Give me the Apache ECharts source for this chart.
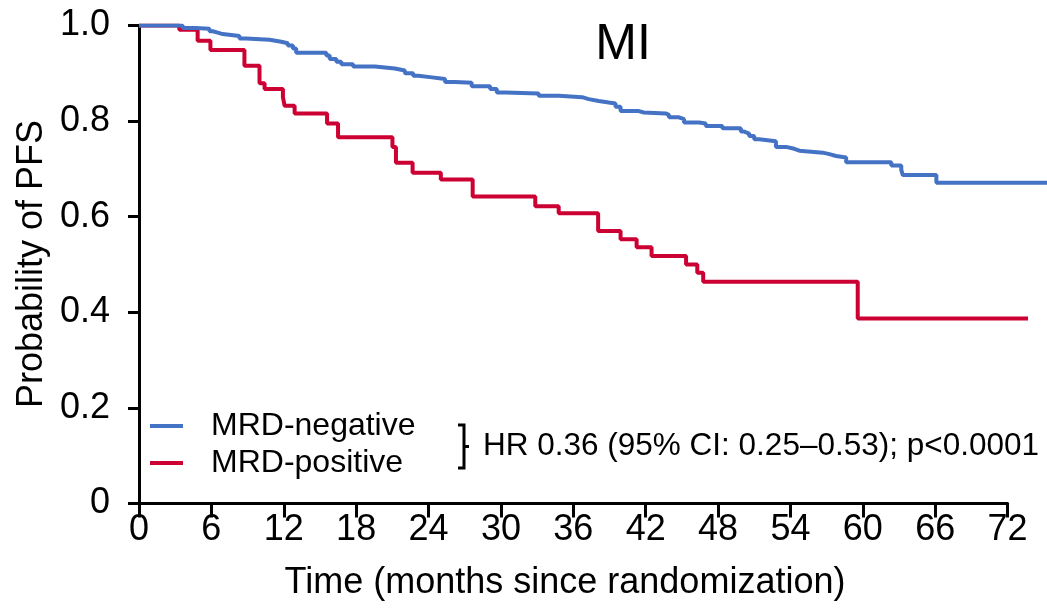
<!DOCTYPE html>
<html>
<head>
<meta charset="utf-8">
<script src="https://cdn.jsdelivr.net/npm/echarts@6/dist/echarts.min.js"></script>
<style>
  html, body { margin: 0; padding: 0; background: #fff; }
  #chart { width: 1047px; height: 610px; }
</style>
</head>
<body>
<div id="chart"></div>
<script>
// Kaplan–Meier PFS estimates, months since randomization
const negTime = [0, 3.62, 4.72, 5.84, 6.11, 6.53, 6.94, 8.33, 8.88, 10.82, 11.79, 12.34, 12.76, 13.03, 15.53, 15.81, 16.36, 16.77, 17.75, 19.55, 21.21, 22.04, 22.73, 23.15, 24.12, 25.37, 26.2, 27.58, 29.11, 29.66, 30.36, 33.13, 34.79, 36.73, 37.28, 38.11, 38.94, 39.5, 39.92, 41.44, 41.85, 43.66, 43.93, 44.76, 45.18, 46.43, 46.98, 48.36, 49.89, 50.17, 50.58, 51.0, 51.41, 52.8, 53.63, 54.32, 54.74, 56.68, 57.23, 57.79, 58.62, 62.36, 63.19, 63.32, 66.1, 75.27];
const negSurv = [1, 0.995, 0.993, 0.988, 0.985, 0.982, 0.978, 0.973, 0.970, 0.966, 0.963, 0.958, 0.952, 0.943, 0.937, 0.930, 0.924, 0.919, 0.914, 0.910, 0.906, 0.900, 0.895, 0.892, 0.888, 0.882, 0.880, 0.873, 0.867, 0.860, 0.858, 0.853, 0.850, 0.846, 0.842, 0.839, 0.837, 0.830, 0.821, 0.818, 0.816, 0.813, 0.808, 0.804, 0.797, 0.795, 0.790, 0.785, 0.778, 0.774, 0.769, 0.762, 0.758, 0.746, 0.742, 0.738, 0.734, 0.731, 0.727, 0.724, 0.714, 0.707, 0.698, 0.687, 0.671, 0.671];

const posTime = [0, 3.34, 4.86, 5.92, 8.74, 9.99, 10.41, 11.93, 12.07, 12.9, 15.59, 16.5, 21.01, 21.3, 22.68, 25.02, 27.66, 32.85, 34.79, 38.06, 39.92, 41.25, 42.49, 45.35, 46.28, 46.77, 59.58, 73.7];
const posSurv = [1, 0.991, 0.968, 0.949, 0.916, 0.879, 0.867, 0.850, 0.832, 0.816, 0.795, 0.766, 0.746, 0.713, 0.692, 0.678, 0.642, 0.622, 0.607, 0.570, 0.553, 0.536, 0.518, 0.500, 0.483, 0.464, 0.387, 0.387];

const groupNames = ['MRD-negative', 'MRD-positive'];
const groupColors = ['#4472C4', '#CC0033'];
const panelTitle = 'MI';
const statsText = 'HR 0.36 (95% CI: 0.25\u20130.53); p<0.0001';
const xTitle = 'Time (months since randomization)';
const yTitle = 'Probability of PFS';

const FONT = '"Liberation Sans", Arial, Helvetica, sans-serif';

function pairs(t, s) { return t.map((v, i) => [v, s[i]]); }

// Plot box: the curves run to the right edge, the drawn time axis stops at 72 months.
const W = 1047, LEFT = 139, TOP = 25.5, BOTTOM = 106.5;
const AXIS_MAX = 72;
const DATA_MAX = negTime[negTime.length - 1];
const fullWidth = W - LEFT;
const axisRight = W - LEFT - fullWidth * AXIS_MAX / DATA_MAX;

const chart = echarts.init(document.getElementById('chart'), null, { renderer: 'canvas' });

const axisLine = { show: true, lineStyle: { color: '#000', width: 3 } };
const axisTick = { show: true, length: 11, lineStyle: { color: '#000', width: 3 } };

chart.setOption({
  animation: false,
  backgroundColor: '#fff',
  grid: [
    { left: LEFT, right: 0, top: TOP, bottom: BOTTOM, containLabel: false },
    { left: LEFT, right: axisRight, top: TOP, bottom: BOTTOM, containLabel: false }
  ],
  xAxis: [
    { gridIndex: 0, type: 'value', min: 0, max: DATA_MAX, show: false },
    {
      gridIndex: 1, type: 'value', min: 0, max: AXIS_MAX, interval: 6,
      axisLine: axisLine,
      axisTick: Object.assign({}, axisTick, { length: 14 }),
      splitLine: { show: false },
      axisLabel: { fontSize: 36, fontFamily: FONT, color: '#000', margin: 9 }
    }
  ],
  yAxis: [
    {
      gridIndex: 0, type: 'value', min: 0, max: 1, interval: 0.2,
      axisLine: axisLine,
      axisTick: axisTick,
      splitLine: { show: false },
      axisLabel: {
        fontSize: 36, fontFamily: FONT, color: '#000', margin: 29,
        formatter: v => (v === 0 ? '0' : v.toFixed(1))
      }
    },
    { gridIndex: 1, type: 'value', min: 0, max: 1, show: false }
  ],
  legend: {
    orient: 'vertical', left: 150, top: 410, padding: 0,
    icon: 'rect', itemWidth: 33, itemHeight: 4, itemGap: 5,
    selectedMode: false,
    data: groupNames,
    textStyle: { fontSize: 32, fontFamily: FONT, color: '#000', padding: [0, 0, 0, 23] }
  },
  series: [
    {
      name: groupNames[1], type: 'line', step: 'end',
      xAxisIndex: 0, yAxisIndex: 0,
      showSymbol: false, symbol: 'none',
      lineStyle: { color: groupColors[1], width: 4 },
      itemStyle: { color: groupColors[1] },
      data: pairs(posTime, posSurv)
    },
    {
      name: groupNames[0], type: 'line', step: 'end',
      xAxisIndex: 0, yAxisIndex: 0,
      showSymbol: false, symbol: 'none',
      lineStyle: { color: groupColors[0], width: 4 },
      itemStyle: { color: groupColors[0] },
      data: pairs(negTime, negSurv)
    }
  ],
  graphic: [
    {
      type: 'text', x: 623, y: 45,
      style: { text: panelTitle, fontSize: 50, fontFamily: FONT, fill: '#000', align: 'center', verticalAlign: 'middle' }
    },
    {
      type: 'text', x: 565, y: 583,
      style: { text: xTitle, fontSize: 36, fontFamily: FONT, fill: '#000', align: 'center', verticalAlign: 'middle' }
    },
    {
      type: 'text', x: 32, y: 264, rotation: Math.PI / 2,
      style: { text: yTitle, fontSize: 36, fontFamily: FONT, fill: '#000', align: 'center', verticalAlign: 'middle' }
    },
    {
      // curly bracket joining the two groups
      type: 'polyline',
      shape: { points: [[458, 425], [464, 425], [464, 468], [458, 468]] },
      style: { stroke: '#000', lineWidth: 3, fill: null }
    },
    {
      type: 'line',
      shape: { x1: 464, y1: 446.5, x2: 469, y2: 446.5 },
      style: { stroke: '#000', lineWidth: 3 }
    },
    {
      type: 'text', x: 483, y: 446,
      style: { text: statsText, fontSize: 31.5, fontFamily: FONT, fill: '#000', align: 'left', verticalAlign: 'middle' }
    }
  ]
});
</script>
</body>
</html>
